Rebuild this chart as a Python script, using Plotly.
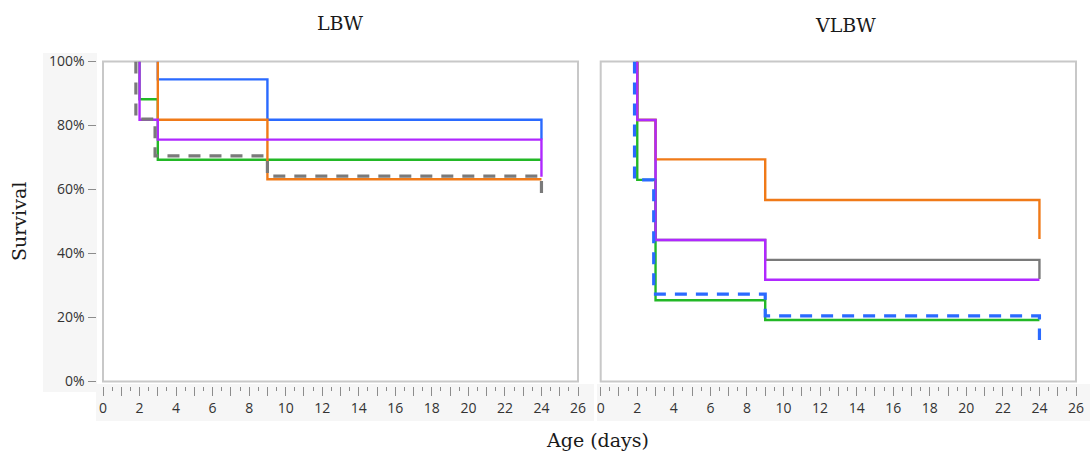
import plotly.graph_objects as go

W, H = 1090, 454

# ---- survival data (time in days, survival in %) ----
lbw_green_t = [0, 2, 3, 24]
lbw_green_s = [100, 88.2, 69.3, 69.3]
lbw_blue_t = [0, 3, 9, 24]
lbw_blue_s = [100, 94.4, 81.8, 75.6]
lbw_orange_t = [0, 3, 9, 24]
lbw_orange_s = [100, 81.8, 63.2, 63.2]
lbw_purple_t = [0, 2, 3, 24]
lbw_purple_s = [100, 81.8, 75.6, 64.0]
lbw_gray_t = [0, 1.8, 2.85, 9, 24]
lbw_gray_s = [100, 82.0, 70.5, 64.2, 57.0]

vlbw_gray_t = [0, 2, 3, 9, 24]
vlbw_gray_s = [100, 81.7, 44.2, 38.0, 32.0]
vlbw_green_t = [0, 2, 3, 9, 24]
vlbw_green_s = [100, 63.0, 25.4, 19.2, 19.2]
vlbw_orange_t = [0, 2, 3, 9, 24]
vlbw_orange_s = [100, 81.7, 69.4, 56.7, 44.5]
vlbw_purple_t = [0, 2, 3, 9, 24]
vlbw_purple_s = [100, 81.7, 44.2, 31.8, 31.8]
vlbw_blue_t = [0, 1.85, 2.9, 9, 24]
vlbw_blue_s = [100, 63.0, 27.3, 20.5, 13.0]

x_ticks = list(range(0, 27))
x_tick_text = [str(v) if v % 2 == 0 else "" for v in x_ticks]
y_ticks = [0, 20, 40, 60, 80, 100]
y_tick_text = ["0%", "20%", "40%", "60%", "80%", "100%"]

BLUE = "#2a6aff"
ORANGE = "#f07a18"
GREEN = "#22b826"
PURPLE = "#b028ff"
GRAY = "#7a7a7a"


def fx(px):
    return px / W


def fy(py):
    return 1 - py / H


def step(t, s, color, xa, ya, dash="solid", width=2.4):
    # the curve begins with its first drop; the flat 100% stretch lies on the frame
    xs = [t[1]] + list(t[1:])
    ys = [s[0]] + list(s[1:])
    return go.Scatter(
        x=xs, y=ys, mode="lines", line_shape="hv",
        line=dict(color=color, width=width, dash=dash),
        xaxis=xa, yaxis=ya, hoverinfo="skip", showlegend=False,
    )


fig = go.Figure()
# LBW panel
fig.add_trace(step(lbw_green_t, lbw_green_s, GREEN, "x", "y"))
fig.add_trace(step(lbw_blue_t, lbw_blue_s, BLUE, "x", "y"))
fig.add_trace(step(lbw_orange_t, lbw_orange_s, ORANGE, "x", "y"))
fig.add_trace(step(lbw_purple_t, lbw_purple_s, PURPLE, "x", "y"))
fig.add_trace(step(lbw_gray_t, lbw_gray_s, GRAY, "x", "y", dash="12px,9px", width=3.2))
# VLBW panel
fig.add_trace(step(vlbw_gray_t, vlbw_gray_s, GRAY, "x2", "y2"))
fig.add_trace(step(vlbw_green_t, vlbw_green_s, GREEN, "x2", "y2"))
fig.add_trace(step(vlbw_orange_t, vlbw_orange_s, ORANGE, "x2", "y2"))
fig.add_trace(step(vlbw_purple_t, vlbw_purple_s, PURPLE, "x2", "y2"))
fig.add_trace(step(vlbw_blue_t, vlbw_blue_s, BLUE, "x2", "y2", dash="12px,9px", width=3.2))

tick_font = dict(family="Open Sans", size=14, color="#333333")
axis_line_col = "#8c8c8c"

xcommon = dict(
    range=[0, 26], anchor="free", position=fy(386),
    tickmode="array", tickvals=x_ticks, ticktext=x_tick_text,
    ticks="outside", ticklen=9, tickwidth=1, tickcolor=axis_line_col,
    minor=dict(tickmode="linear", tick0=0, dtick=0.5, ticks="outside",
               ticklen=4, tickwidth=1, tickcolor=axis_line_col, showgrid=False),
    showline=False, showgrid=False, zeroline=False, automargin=False,
    tickfont=tick_font, fixedrange=True,
)

box_dom_y = [fy(381.5), fy(61.5)]

fig.update_layout(
    width=W, height=H, autosize=False,
    margin=dict(l=0, r=0, t=0, b=0, pad=0, autoexpand=False),
    paper_bgcolor="white", plot_bgcolor="rgba(0,0,0,0)",
    xaxis=dict(domain=[fx(103), fx(578)], **xcommon),
    xaxis2=dict(domain=[fx(600.7), fx(1076)], **xcommon),
    yaxis=dict(
        domain=box_dom_y, range=[0, 100], anchor="free", position=fx(95.5),
        tickmode="array", tickvals=y_ticks, ticktext=y_tick_text,
        ticks="outside", ticklen=8, tickwidth=1, tickcolor=axis_line_col,
        showline=False, showgrid=False, zeroline=False, automargin=False,
        tickfont=tick_font, fixedrange=True,
    ),
    yaxis2=dict(domain=box_dom_y, range=[0, 100], anchor="x2", visible=False,
                fixedrange=True),
    showlegend=False,
)

band = "#f6f6f6"
shapes = [
    # light label bands
    dict(type="rect", xref="paper", yref="paper", layer="below",
         x0=fx(43), x1=fx(97), y0=fy(392), y1=fy(53),
         fillcolor=band, line=dict(width=0)),
    dict(type="rect", xref="paper", yref="paper", layer="below",
         x0=fx(96), x1=fx(594), y0=fy(421), y1=fy(384),
         fillcolor=band, line=dict(width=0)),
    dict(type="rect", xref="paper", yref="paper", layer="below",
         x0=fx(597), x1=fx(1090), y0=fy(421), y1=fy(384),
         fillcolor=band, line=dict(width=0)),
    # panel frames
    dict(type="rect", xref="x domain", yref="y domain", layer="below",
         x0=0, x1=1, y0=0, y1=1, line=dict(color="#c8c8c8", width=2)),
    dict(type="rect", xref="x2 domain", yref="y2 domain", layer="below",
         x0=0, x1=1, y0=0, y1=1, line=dict(color="#c8c8c8", width=2)),
]
fig.update_layout(shapes=shapes)

serif = dict(family="DejaVu Serif", size=19, color="#1a1a1a")
fig.add_annotation(text="LBW", x=fx(340), y=fy(23), xref="paper", yref="paper",
                   showarrow=False, xanchor="center", yanchor="middle", font=serif)
fig.add_annotation(text="VLBW", x=fx(845), y=fy(25), xref="paper", yref="paper",
                   showarrow=False, xanchor="center", yanchor="middle", font=serif)
fig.add_annotation(text="Survival", x=fx(19), y=fy(222), xref="paper", yref="paper",
                   showarrow=False, textangle=-90, xanchor="center", yanchor="middle",
                   font=serif)
fig.add_annotation(text="Age (days)", x=fx(597), y=fy(440), xref="paper", yref="paper",
                   showarrow=False, xanchor="center", yanchor="middle", font=serif)

fig.write_html("out.html")
